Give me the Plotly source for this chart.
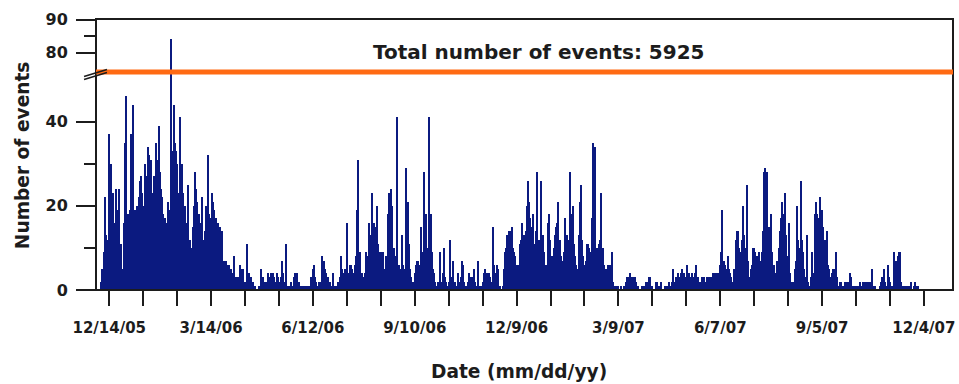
import pandas as pd
import plotly.graph_objects as go

# ---------------- data ----------------
start_date = "2005-12-07"
counts = [
    2, 5, 9, 22, 13, 9, 12, 37, 15, 30,
    23, 5, 16, 24, 17, 19, 24, 11, 5, 4,
    16, 35, 46, 0, 18, 19, 37, 31, 44, 18,
    19, 18, 20, 22, 26, 27, 23, 20, 18, 30,
    27, 34, 32, 22, 31, 23, 17, 27, 35, 31,
    30, 39, 28, 24, 22, 18, 17, 0, 16, 21,
    17, 19, 84, 33, 44, 35, 33, 30, 23, 22,
    41, 30, 23, 20, 20, 16, 14, 25, 12, 10,
    9, 15, 20, 28, 24, 21, 18, 16, 15, 22,
    12, 9, 14, 20, 32, 18, 16, 17, 23, 21,
    19, 17, 15, 16, 14, 15, 13, 14, 7, 7,
    7, 6, 6, 6, 5, 5, 4, 8, 3, 3,
    2, 3, 3, 6, 5, 5, 2, 2, 2, 11,
    3, 4, 3, 2, 2, 1, 1, 0, 0, 1,
    1, 5,
    2, 3, 1, 2, 2, 4, 2, 3, 4, 2,
    4, 3, 2, 4, 3, 1, 2, 3, 7, 4,
    2, 11, 1, 1, 0, 1, 2, 1, 3, 4,
    3, 4, 2, 2, 1, 1, 0, 1, 0, 1,
    0, 1, 1, 3, 2, 5, 6, 3, 2, 1,
    2, 2, 2, 8, 4, 7, 5, 4, 3, 2,
    2, 1, 1, 4, 1, 1, 1, 2, 2, 3,
    8, 5, 4, 5, 3, 16, 4, 2, 6, 6,
    5, 4, 6, 8, 19, 31, 6, 9, 4, 2,
    3, 4, 9, 6, 8, 16, 13, 23, 11, 16,
    15, 12, 20, 11, 9, 9, 9, 9, 5, 4,
    8, 18, 23, 22, 24, 20, 8, 10, 8, 41,
    5, 6, 5, 5, 13, 6, 5, 29, 10, 21,
    11, 5, 3, 2, 2, 4, 6, 7, 7, 6,
    5, 15, 9, 28, 11, 18, 10, 10,
    41, 18, 9, 5, 4, 2, 1, 1, 2, 9,
    2, 2, 4, 10, 3, 2, 1, 2, 12, 2,
    3, 7, 2, 2, 1, 4, 2, 2, 3, 7,
    6, 2, 1, 1, 2, 4, 3, 2, 3, 5,
    2, 1, 1, 7, 1, 0, 1, 2, 4, 5,
    4, 4, 4, 4, 3, 2, 15, 6, 4, 4,
    6, 5, 1, 0, 0, 1, 5, 9, 10, 13,
    14, 12, 14, 15, 10, 9, 8, 6, 6, 5,
    11, 12, 16, 12, 13, 14, 20, 26, 21, 17,
    15, 13, 18, 11, 14, 28, 12, 10, 12, 26,
    13, 9, 6, 4, 6, 16, 18, 12, 8, 6,
    10, 13, 15, 16, 21, 12, 8, 4, 7, 9,
    17, 13, 13, 12, 28, 18, 16, 20, 11, 8,
    6, 5, 13, 21, 25, 12, 8, 6, 7, 11,
    11, 10, 8, 9, 17, 35, 34,
    8, 10, 10, 11, 12, 23, 10, 6, 5, 5,
    5, 6, 6, 6, 9, 2, 1, 1, 0, 1,
    1, 0, 1, 0, 0, 1, 1, 2, 3, 3,
    4, 3, 3, 2, 3, 3, 2, 1, 0, 0,
    0, 1, 0, 1, 2, 2, 2, 3, 3, 1,
    1, 0, 0, 2, 2, 1, 1, 1, 2, 0,
    0, 1, 1, 0, 1, 2, 1, 2, 5, 2,
    2, 3, 3, 4, 3, 4, 5, 3, 4, 2,
    3, 6, 4, 2, 3, 4, 2, 3, 4, 6,
    3, 2, 2, 2, 3, 2, 3, 2, 3, 1,
    3, 3, 3, 3, 4, 4, 3, 4, 4, 4,
    6, 9, 19, 7, 6, 5, 5, 8, 5, 4,
    3, 2, 5, 3, 12, 14, 14, 10, 9, 12,
    20, 13, 10, 9, 25, 7, 3, 5, 6, 10,
    10, 9, 8, 8, 9, 7, 4, 9, 14, 28,
    29, 28, 15, 15, 12, 18, 9, 6, 6, 4,
    7, 7, 10, 14, 17, 21, 18, 23, 13, 8,
    6, 16, 4, 2, 2, 2, 5, 7, 20, 12,
    10, 26, 12, 9, 5, 2, 3, 13, 2, 1,
    3, 9, 2, 4, 18, 21, 18, 17, 22, 17,
    19, 15, 10, 12, 14, 6, 5, 3, 3, 4,
    5, 5, 9, 3, 1, 1, 2, 2, 1, 1,
    2, 1, 2, 1, 2, 4, 3, 1, 1, 0,
    1, 1, 1, 1, 2, 1, 2, 2, 2, 2,
    2, 2, 2, 2, 5, 1, 0, 1, 0, 0,
    0, 1, 2, 3, 2, 5, 2, 1, 6, 3,
    2, 1, 1, 1, 9, 7, 5, 8, 9, 9,
    2, 0, 1, 1, 0, 1, 0, 1, 0, 2,
    0, 1, 2, 0, 1, 1, 0, 0,
]
tick_dates = ["2005-12-14", "2006-03-14", "2006-06-12", "2006-09-10", "2006-12-09",
              "2007-03-09", "2007-06-07", "2007-09-05", "2007-12-04"]
tick_labels = ["12/14/05", "3/14/06", "6/12/06", "9/10/06", "12/9/06",
               "3/9/07", "6/7/07", "9/5/07", "12/4/07"]
lower_ticks = [0, 20, 40]
lower_minor = [10, 30]
upper_ticks = [80, 90]
upper_minor = [85]
total_events = 5925
x_title = "Date (mm/dd/yy)"
y_title = "Number of events"

# ---------------- figure ----------------
dates = pd.date_range(start_date, periods=len(counts), freq="D")
minor_dates = pd.date_range(tick_dates[0], tick_dates[-1], freq="30D")

W, H = 959, 384
L, R, T, B = 96, 4, 19, 94
pw, ph = W - L - R, H - T - B
brk_px = 72  # y pixel of the axis break
brk = (H - B - brk_px) / ph

bar_color = "#0b1a80"
ink = "#1c1c1c"
FONT = "DejaVu Sans"

fig = go.Figure()
fig.add_trace(go.Bar(x=dates, y=counts, marker=dict(color=bar_color, line=dict(width=0)),
                     xaxis="x", yaxis="y"))
fig.add_trace(go.Bar(x=dates, y=counts, marker=dict(color=bar_color, line=dict(width=0)),
                     xaxis="x", yaxis="y2"))

tickfont = dict(family=FONT, size=16, color=ink, weight="bold")
xtickfont = dict(family=FONT, size=15, color=ink, weight="bold")

fig.update_layout(
    width=W, height=H,
    margin=dict(l=L, r=R, t=T, b=B),
    paper_bgcolor="white", plot_bgcolor="white",
    showlegend=False, bargap=0,
    xaxis=dict(
        type="date", range=["2005-12-02 07:00", "2007-12-29 17:00"],
        tickmode="array", tickvals=tick_dates, ticktext=tick_labels,
        ticks="outside", ticklen=15, tickwidth=2, tickcolor=ink,
        tickfont=xtickfont, showgrid=False, zeroline=False, showline=False,
        anchor="y", ticklabeloverflow="allow", ticklabelstandoff=9,
        minor=dict(tickmode="array", tickvals=list(minor_dates), ticks="outside",
                   ticklen=15, tickwidth=2, tickcolor=ink, showgrid=False),
    ),
    yaxis=dict(
        domain=[0, brk], range=[0, 51.8],
        tickmode="array", tickvals=lower_ticks, ticktext=[str(v) for v in lower_ticks],
        ticks="outside", ticklen=19, tickwidth=2, tickcolor=ink,
        tickfont=tickfont, showgrid=False, zeroline=False, showline=False,
        anchor="x", ticklabelstandoff=5,
        minor=dict(tickmode="array", tickvals=lower_minor, ticks="outside",
                   ticklen=11, tickwidth=2, tickcolor=ink, showgrid=False),
    ),
    yaxis2=dict(
        domain=[brk, 1], range=[74.15, 90.2],
        tickmode="array", tickvals=upper_ticks, ticktext=[str(v) for v in upper_ticks],
        ticks="outside", ticklen=19, tickwidth=2, tickcolor=ink,
        tickfont=tickfont, showgrid=False, zeroline=False, showline=False,
        anchor="x", ticklabelstandoff=5,
        minor=dict(tickmode="array", tickvals=upper_minor, ticks="outside",
                   ticklen=11, tickwidth=2, tickcolor=ink, showgrid=False),
    ),
)

def px_x(p):
    return (p - L) / pw

def px_y(p):
    return (H - B - p) / ph

shapes = [
    # frame
    dict(type="rect", xref="paper", yref="paper", x0=0, x1=1, y0=0, y1=1,
         line=dict(color=ink, width=2), layer="above"),
    # orange total line
    dict(type="line", xref="paper", yref="paper", x0=0, x1=1, y0=brk, y1=brk,
         line=dict(color="#ff6a13", width=5), layer="above"),
    # axis break marks
    dict(type="line", xref="paper", yref="paper", x0=px_x(84), x1=px_x(107),
         y0=px_y(76.5), y1=px_y(69.5), line=dict(color=ink, width=1.6), layer="above"),
    dict(type="line", xref="paper", yref="paper", x0=px_x(84), x1=px_x(107),
         y0=px_y(79.5), y1=px_y(72.5), line=dict(color=ink, width=1.6), layer="above"),
]
fig.update_layout(shapes=shapes)

fig.add_annotation(text=f"Total number of events: {total_events}", xref="paper", yref="paper",
                   x=px_x(540), y=px_y(52), showarrow=False, xanchor="center", yanchor="middle",
                   font=dict(family=FONT, size=20, color=ink, weight="bold"))
fig.add_annotation(text=x_title, xref="paper", yref="paper",
                   x=px_x(520), y=px_y(371), showarrow=False, xanchor="center", yanchor="middle",
                   font=dict(family=FONT, size=18.6, color=ink, weight="bold"))
fig.add_annotation(text=y_title, xref="paper", yref="paper", textangle=-90,
                   x=px_x(22), y=px_y(155), showarrow=False, xanchor="center", yanchor="middle",
                   font=dict(family=FONT, size=18.6, color=ink, weight="bold"))

fig.write_html("out.html")
